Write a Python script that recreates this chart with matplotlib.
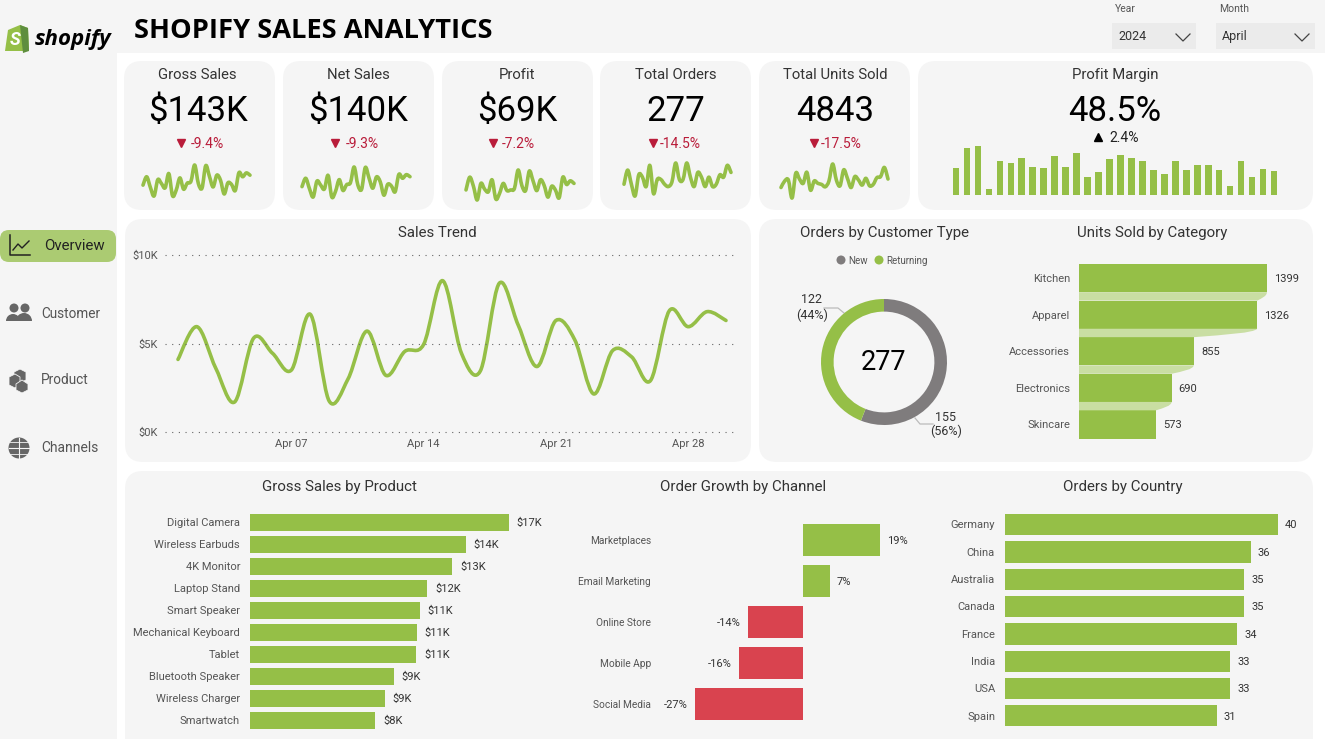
import matplotlib as mpl
mpl.use('Agg')
import matplotlib.pyplot as plt
import numpy as np
from matplotlib.patches import Circle, FancyBboxPatch, PathPatch, Polygon, Rectangle, Wedge
from matplotlib.path import Path

plt.rcParams['font.family'] = ['Roboto', 'DejaVu Sans']

W, H = 1325, 739

GREEN = '#95bf47'
LIGHT_GREEN = '#c9dea3'
PILL = '#abcb72'
RED = '#d9434f'
DARK_RED = '#b91c3a'
GREY = '#7f7c7d'
CARD = '#f5f5f5'
TXT = '#333333'
LABEL = '#555555'

# daily series for April, one value per day
days = list(range(1, 31))
gross_daily = [4.1, 5.95, 3.6, 1.7, 5.3, 4.45, 3.5, 6.65, 1.75, 3.0, 5.7, 3.2, 4.55, 4.95, 8.55,
               4.45, 3.45, 8.4, 6.05, 3.7, 6.3, 5.2, 2.15, 4.6, 4.25, 2.9, 6.85, 5.95, 6.8, 6.3]
net_daily = [4.0, 5.85, 3.55, 1.7, 5.2, 4.35, 3.45, 6.5, 1.7, 2.95, 5.55, 3.15, 4.45, 4.85, 8.35,
             4.35, 3.4, 8.25, 5.9, 3.65, 6.15, 5.1, 2.1, 4.5, 4.15, 2.85, 6.7, 5.85, 6.65, 6.2]
profit_daily = [1.93, 3.26, 2.31, 0.88, 2.61, 2.01, 1.74, 2.99, 0.99, 1.56, 2.61, 1.86, 1.93, 2.08, 4.01,
                2.39, 1.86, 3.90, 2.88, 1.86, 2.99, 2.39, 1.18, 2.31, 1.93, 1.10, 3.26, 2.50, 2.88, 2.61]
orders_daily = [7, 13, 7, 2, 11, 10, 6, 15, 3, 9, 9, 7, 6, 8, 16,
                9, 9, 16, 10, 6, 12, 10, 6, 10, 6, 7, 11, 10, 15, 12]
units_daily = [139, 185, 192, 65, 240, 199, 168, 247, 120, 185, 168, 161, 144, 185, 305,
               192, 151, 264, 204, 139, 216, 192, 156, 204, 151, 161, 209, 216, 281, 199]
margin_daily = [48.0, 54.0, 54.7, 41.7, 50.1, 49.5, 51.0, 48.5, 48.2, 51.7, 48.5, 52.5, 45.5, 46.8, 50.8,
                52.0, 51.2, 50.2, 47.5, 46.2, 50.2, 47.4, 49.0, 49.0, 47.5, 42.7, 50.3, 45.5, 47.8, 47.2]

customer_types = ['New', 'Returning']
customer_orders = [155, 122]

categories = ['Kitchen', 'Apparel', 'Accessories', 'Electronics', 'Skincare']
category_units = [1399, 1326, 855, 690, 573]

products = ['Digital Camera', 'Wireless Earbuds', '4K Monitor', 'Laptop Stand', 'Smart Speaker',
            'Mechanical Keyboard', 'Tablet', 'Bluetooth Speaker', 'Wireless Charger', 'Smartwatch']
product_sales = [16.9, 14.1, 13.2, 11.6, 11.1, 10.9, 10.85, 9.4, 8.8, 8.2]

channels = ['Marketplaces', 'Email Marketing', 'Online Store', 'Mobile App', 'Social Media']
channel_growth = [19.2, 6.7, -13.8, -16.0, -27.0]

countries = ['Germany', 'China', 'Australia', 'Canada', 'France', 'India', 'USA', 'Spain']
country_orders = [40, 36, 35, 35, 34, 33, 33, 31]

fig = plt.figure(figsize=(W / 100, H / 100), dpi=100, facecolor='white')

# page layer in pixel coordinates, y down
bg = fig.add_axes([0, 0, 1, 1])
bg.set_xlim(0, W)
bg.set_ylim(H, 0)
bg.axis('off')


def px_axes(x0, y0, x1, y1):
    ax = fig.add_axes([x0 / W, 1 - y1 / H, (x1 - x0) / W, (y1 - y0) / H])
    ax.patch.set_visible(False)
    return ax


def card(x0, y0, x1, y1, r=18):
    bg.add_patch(FancyBboxPatch((x0, y0), x1 - x0, y1 - y0, boxstyle=f'round,pad=0,rounding_size={r}',
                                fc=CARD, ec='none'))


def txt(x, y, s, size=9, color=TXT, ha='center', **kw):
    # 1.5px down, roboto sits high when centred
    bg.text(x, y + 1.5, s, fontsize=size, color=color, ha=ha, va='center', **kw)


def label(ax, x, y, s, dx, ha, color=LABEL, size=8):
    # bar labels: anchored on the data, offset in pixels
    ax.annotate(s, (x, y), xytext=(dx * 0.72, -0.6), textcoords='offset points', fontsize=size,
                color=color, ha=ha, va='center', annotation_clip=False)


def smooth_line(ax, x, y, lw=2.6, color=GREEN):
    # catmull-rom through the points, written as bezier segments
    x = np.asarray(x, float)
    y = np.asarray(y, float)
    verts = [(x[0], y[0])]
    codes = [Path.MOVETO]
    for i in range(len(x) - 1):
        a = max(i - 1, 0)
        b = min(i + 2, len(x) - 1)
        verts.append((x[i] + (x[i + 1] - x[a]) / 6, y[i] + (y[i + 1] - y[a]) / 6))
        verts.append((x[i + 1] - (x[b] - x[i]) / 6, y[i + 1] - (y[b] - y[i]) / 6))
        verts.append((x[i + 1], y[i + 1]))
        codes += [Path.CURVE4] * 3
    ax.add_patch(PathPatch(Path(verts, codes), fc='none', ec=color, lw=lw, clip_on=False,
                           capstyle='round', joinstyle='round'))


def chevron(x, y):
    bg.plot([x - 7, x, x + 7], [y - 4, y + 3, y - 4], color='#444444', lw=0.9)


# header and side bands
bg.add_patch(Rectangle((0, 0), W, 53, fc=CARD, ec='none'))
bg.add_patch(Rectangle((0, 0), 117, H, fc=CARD, ec='none'))
txt(134, 29, 'SHOPIFY SALES ANALYTICS', size=19.6, color='black', ha='left', family='Open Sans', weight='bold')

# shopify logo
bg.add_patch(Polygon([(8, 30), (20, 25), (28, 28), (29, 51), (5, 51)], closed=True, fc=GREEN, ec='none'))
bg.add_patch(Polygon([(20, 25), (28, 28), (29, 51), (23, 53)], closed=True, fc='#5e8e3e', ec='none'))
txt(15, 38.5, 'S', size=13, color='white', weight='bold', style='italic')
txt(35, 38.5, 'shopify', size=16, color='black', ha='left', weight='bold', style='italic', family='Open Sans')

# slicers
txt(1115, 8, 'Year', size=7.5, color=LABEL, ha='left')
txt(1219, 8, 'Month', size=7.5, color=LABEL, ha='left')
bg.add_patch(Rectangle((1112, 23), 84, 26, fc='#ebebeb', ec='none'))
bg.add_patch(Rectangle((1216, 23), 99, 26, fc='#ebebeb', ec='none'))
txt(1118, 35, '2024', size=9, color=TXT, ha='left')
txt(1222, 35, 'April', size=9, color=TXT, ha='left')
chevron(1183, 38)
chevron(1302, 38)

# side navigation
bg.add_patch(FancyBboxPatch((0, 230), 116, 32, boxstyle='round,pad=0,rounding_size=9', fc=PILL, ec='none'))
bg.plot([10, 10, 30], [235, 255, 255], color='#222222', lw=1.1)
bg.plot([13, 18, 22, 29], [250, 244, 248, 241], color='#222222', lw=1.0)
txt(44, 245, 'Overview', size=10.8, color='#222222', ha='left')

icon = '#666666'
bg.add_patch(Circle((14, 308), 4.5, fc=icon, ec='none'))
bg.add_patch(Circle((25, 308), 4.5, fc=icon, ec='none'))
bg.add_patch(Wedge((13, 321), 7, 180, 360, fc=icon, ec='none'))
bg.add_patch(Wedge((24, 321), 8, 180, 360, fc=icon, ec='none'))
txt(41, 312, 'Customer', size=9.8, color=LABEL, ha='left')

bg.add_patch(Polygon([(14, 372), (20, 369), (26, 372), (26, 380), (20, 383), (14, 380)], closed=True, fc=icon, ec=CARD, lw=0.6))
bg.add_patch(Polygon([(9, 377), (15, 374), (20, 377), (20, 385), (15, 388), (9, 385)], closed=True, fc=icon, ec=CARD, lw=0.6))
bg.add_patch(Polygon([(16, 384), (22, 380), (28, 384), (28, 390), (22, 393), (16, 390)], closed=True, fc=icon, ec=CARD, lw=0.6))
txt(41, 378, 'Product', size=9.8, color=LABEL, ha='left')

bg.add_patch(Circle((19, 448), 10.5, fc=icon, ec='none'))
bg.plot([8.5, 29.5], [448, 448], color=CARD, lw=0.8)
bg.plot([10, 28], [442, 442], color=CARD, lw=0.6)
bg.plot([10, 28], [454, 454], color=CARD, lw=0.6)
bg.plot([19, 19], [438, 458], color=CARD, lw=0.8)
txt(41, 446, 'Channels', size=10, color=LABEL, ha='left')

# cards
kpi_titles = ['Gross Sales', 'Net Sales', 'Profit', 'Total Orders', 'Total Units Sold']
kpi_values = ['$143K', '$140K', '$69K', '277', '4843']
kpi_deltas = ['-9.4%', '-9.3%', '-7.2%', '-14.5%', '-17.5%']
kpi_boxes = [(124, 275), (283, 434), (442, 593), (600, 751), (759, 910)]
kpi_centres = [197.5, 358.5, 517.5, 676, 835]
delta_marks = [181, 335, 493, 653, 814]
delta_left = [191, 346, 502, 660, 821]
spark_data = [gross_daily, net_daily, profit_daily, orders_daily, units_daily]
spark_boxes = [(143, 165, 250, 196), (302, 167, 410, 197), (466, 170, 574, 200),
               (624, 163, 731, 196), (781, 164, 888, 198)]

for i, (x0, x1) in enumerate(kpi_boxes):
    card(x0, 61, x1, 210)
    cx = kpi_centres[i]
    txt(cx, 73.5, kpi_titles[i], size=10.7)
    txt(cx, 110, kpi_values[i], size=25, color='black')
    bg.plot(delta_marks[i], 143, marker='v', ms=5.5, color=DARK_RED, ls='none')
    txt(delta_left[i], 142.5, kpi_deltas[i], size=10, color=DARK_RED, ha='left')
    sx0, sy0, sx1, sy1 = spark_boxes[i]
    sp = px_axes(sx0, sy0, sx1, sy1)
    sp.axis('off')
    sp.set_xlim(days[0], days[-1])
    sp.set_ylim(min(spark_data[i]), max(spark_data[i]))
    smooth_line(sp, days, spark_data[i])

card(918, 61, 1313, 210)
txt(1115, 73.5, 'Profit Margin', size=10.7)
txt(1115, 110, '48.5%', size=25, color='black')
bg.plot(1098, 137, marker='^', ms=5.5, color='black', ls='none')
txt(1109, 136.5, '2.4%', size=10, color='#222222', ha='left')
mg = px_axes(950.5, 146, 1279.5, 195)
mg.axis('off')
mg.bar(days, margin_daily, width=0.6, color=GREEN)
mg.set_xlim(0.5, 30.5)
mg.set_ylim(40, max(margin_daily))

card(125, 219, 751, 462)
card(759, 219, 1313, 462)
card(125, 471, 1313, 760)

# sales trend
txt(437, 231.5, 'Sales Trend', size=10.8)
st = px_axes(165, 255, 733, 432)
st.set_xlim(1 - 13 / 18.9, 30 + 7 / 18.9)
st.set_ylim(0, 10)
st.set_yticks([0, 5, 10])
st.set_yticklabels(['$0K', '$5K', '$10K'], fontsize=8, color=LABEL)
st.set_xticks([7, 14, 21, 28])
st.set_xticklabels(['Apr 07', 'Apr 14', 'Apr 21', 'Apr 28'], fontsize=8, color=LABEL)
st.tick_params(length=0, pad=5)
for s in st.spines.values():
    s.set_visible(False)
st.grid(axis='y', color='#666666', lw=0.8, ls=(0, (1, 5)))
for gl in st.get_ygridlines():
    gl.set_clip_on(False)
smooth_line(st, days, gross_daily)

# donut
txt(884, 231.5, 'Orders by Customer Type', size=10.8)
bg.add_patch(Circle((841, 260), 4.5, fc=GREY, ec='none'))
txt(848, 259, customer_types[0], size=7, color=LABEL, ha='left')
bg.add_patch(Circle((879, 260), 4.5, fc=GREEN, ec='none'))
txt(886, 259, customer_types[1], size=7, color=LABEL, ha='left')
dn = px_axes(884 - 63, 362 - 63, 884 + 63, 362 + 63)
dn.pie(customer_orders, colors=[GREY, GREEN], startangle=90, counterclock=False, radius=1,
       wedgeprops={'width': 0.2, 'linewidth': 0})
dn.set_xlim(-1, 1)
dn.set_ylim(-1, 1)
txt(884, 361, str(sum(customer_orders)), size=19.5, color='black')
bg.plot([824, 838, 844], [308, 308, 313], color='#bbbbbb', lw=0.9)
bg.plot([915, 920, 933], [418, 424, 424], color='#bbbbbb', lw=0.9)
txt(812, 298, str(customer_orders[1]), size=9)
txt(812, 314, '(44%)', size=9)
txt(946, 416, str(customer_orders[0]), size=9)
txt(946, 430, '(56%)', size=9)

# funnel
txt(1152, 231.5, 'Units Sold by Category', size=10.8)
fn = px_axes(1079, 264, 1300, 438.5)
fn.set_xlim(0, 221 / 188 * category_units[0])
fn.axis('off')
# bars are 28px on a 36.5px pitch, the rest of the pitch is the connector
bar_h = 0.77
fn.set_ylim(4 + bar_h / 2, -bar_h / 2)
fn.barh(range(5), category_units, height=bar_h, color=GREEN)
for i in range(4):
    top = i + bar_h / 2
    bot = i + 1 - bar_h / 2
    w1, w2 = category_units[i], category_units[i + 1]
    d = w1 - w2
    g = bot - top
    fn.add_patch(PathPatch(Path([(0, top), (w1, top), (w1 - 0.05 * d, top + 0.5 * g), (w2 + 0.5 * d, top + 0.7 * g),
                                 (w2, bot), (0, bot), (0, top)],
                                [Path.MOVETO, Path.LINETO, Path.CURVE4, Path.CURVE4, Path.CURVE4,
                                 Path.LINETO, Path.CLOSEPOLY]), fc=LIGHT_GREEN, ec='none'))
for i, v in enumerate(category_units):
    label(fn, 0, i, categories[i], -9, 'right')
    label(fn, v, i, str(v), 7, 'left', color=TXT)

# gross sales by product
txt(339, 485, 'Gross Sales by Product', size=10.8)
pr = px_axes(250, 511.5, 540, 731.5)
pr.set_xlim(0, 290 / 15.3)
pr.set_ylim(9.5, -0.5)
pr.axis('off')
pr.barh(range(len(products)), product_sales, height=0.77, color=GREEN)
for i, v in enumerate(product_sales):
    label(pr, 0, i, products[i], -10, 'right')
    label(pr, v, i, f'${round(v)}K', 8, 'left', color=TXT)

# order growth by channel
txt(743, 485, 'Order Growth by Channel', size=10.8)
ch = px_axes(660, 519.5, 920, 724.5)
ch.set_xlim(-143 / 4, 117 / 4)
ch.set_ylim(4.5, -0.5)
ch.axis('off')
ch.barh(range(len(channels)), channel_growth, height=0.78, color=[GREEN if v > 0 else RED for v in channel_growth])
for i, v in enumerate(channel_growth):
    label(ch, -143 / 4, i, channels[i], -9, 'right', size=7.3)
    if v > 0:
        label(ch, v, i, f'{round(v)}%', 7, 'left', color=TXT)
    else:
        label(ch, v, i, f'{round(v)}%', -7, 'right', color=TXT)

# orders by country
txt(1123, 485, 'Orders by Country', size=10.8)
co = px_axes(1005, 511, 1305, 729.5)
co.set_xlim(0, 300 / 6.83)
co.set_ylim(7.5, -0.5)
co.axis('off')
co.barh(range(len(countries)), country_orders, height=0.78, color=GREEN)
for i, v in enumerate(country_orders):
    label(co, 0, i, countries[i], -10, 'right')
    label(co, v, i, str(v), 7, 'left', color=TXT)

plt.savefig('out.png', dpi=100)
